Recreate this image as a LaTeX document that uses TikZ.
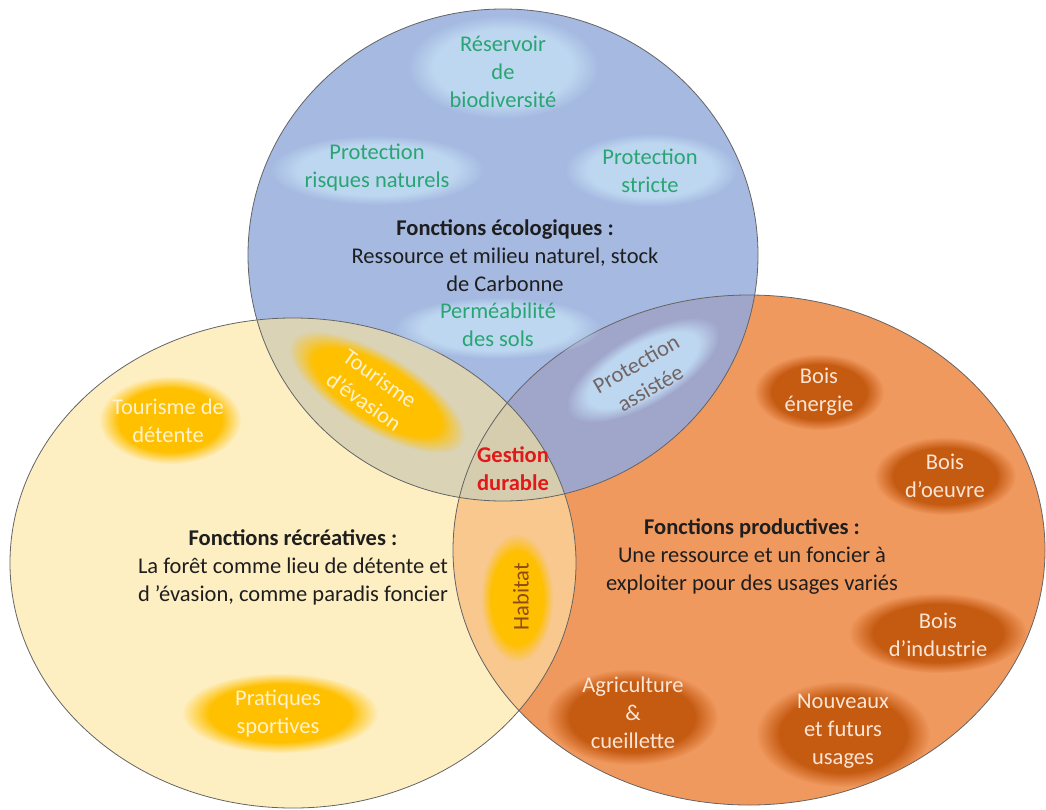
\documentclass[tikz,border=0pt]{standalone}
\usepackage{fontspec}
\setmainfont{Carlito}
\usetikzlibrary{fadings}
\pgfdeclareradialshading{blobshade}{\pgfpointorigin}{color(0bp)=(pgftransparent!0); color(18bp)=(pgftransparent!0); color(25bp)=(pgftransparent!100); color(50bp)=(pgftransparent!100)}
\pgfdeclarefading{blobfade}{\pgfuseshading{blobshade}}
\definecolor{cblue}{RGB}{165,185,225}
\definecolor{cyel}{RGB}{254,239,195}
\definecolor{cora}{RGB}{240,153,95}
\definecolor{cby}{RGB}{218,211,182}
\definecolor{cbo}{RGB}{160,166,202}
\definecolor{cyo}{RGB}{248,200,142}
\definecolor{cbyo}{RGB}{214,205,175}
\definecolor{edge}{RGB}{100,100,100}
\definecolor{bbl}{RGB}{190,215,240}
\definecolor{bgold}{RGB}{255,192,0}
\definecolor{bdor}{RGB}{197,90,17}
\definecolor{tgreen}{RGB}{40,165,115}
\definecolor{tcream}{RGB}{255,242,204}
\definecolor{tpeach}{RGB}{251,229,214}
\definecolor{tgrey}{RGB}{115,100,100}
\definecolor{tbrown}{RGB}{140,75,25}
\definecolor{tred}{RGB}{225,25,25}
\definecolor{tdark}{RGB}{30,30,30}
\tikzset{
  lbl/.style={align=center, inner sep=0pt, font=\fontsize{22.5}{28}\selectfont},
  blob/.style={path fading=blobfade},
}
\newcommand{\blueE}{(503,255) ellipse [x radius=255pt, y radius=246pt]}
\newcommand{\yelE}{(293,563) ellipse [x radius=283pt, y radius=245pt]}
\newcommand{\oraE}{(749,550) ellipse [x radius=296pt, y radius=255pt]}
\begin{document}
\begin{tikzpicture}[x=1pt,y=-1pt]
\useasboundingbox[fill=white] (0,0) rectangle (1046,809);
% base regions
\fill[cblue] \blueE;
\fill[cyel] \yelE;
\fill[cora] \oraE;
\begin{scope}\clip \blueE; \fill[cby] \yelE; \end{scope}
\begin{scope}\clip \blueE; \fill[cbo] \oraE; \end{scope}
\begin{scope}\clip \yelE; \fill[cyo] \oraE; \end{scope}
\begin{scope}\clip \blueE; \clip \yelE; \fill[cbyo] \oraE; \end{scope}
\draw[edge, line width=0.8pt] \blueE;
\draw[edge, line width=0.8pt] \yelE;
\draw[edge, line width=0.8pt] \oraE;
% blobs (ecological)
\fill[bbl, blob] (503,67) ellipse [x radius=96pt, y radius=52pt];
\fill[bbl, blob] (377,170) ellipse [x radius=108pt, y radius=35pt];
\fill[bbl, blob] (651,170) ellipse [x radius=87pt, y radius=37pt];
\fill[bbl, blob] (497,328) ellipse [x radius=104pt, y radius=31pt];
% blobs (recreational)
\fill[bgold, blob] (170,420) ellipse [x radius=71pt, y radius=44pt];
\fill[bgold, blob] (280,713) ellipse [x radius=98pt, y radius=40pt];
\fill[bgold, blob] (517,598) ellipse [x radius=36pt, y radius=64pt];
\begin{scope}[transform canvas={shift={(377pt,-392pt)}, rotate=-31}]
  \fill[bgold, blob] (0,0) ellipse [x radius=100pt, y radius=38pt];
\end{scope}
\begin{scope}[transform canvas={shift={(643pt,-370pt)}, rotate=30}]
  \fill[bbl, blob] (0,0) ellipse [x radius=86pt, y radius=35pt];
\end{scope}
% blobs (productive)
\begin{scope}
\clip \oraE;
\fill[bdor, blob] (819,392) ellipse [x radius=65pt, y radius=38pt];
\fill[bdor, blob] (945,476) ellipse [x radius=71pt, y radius=39pt];
\fill[bdor, blob] (938,633) ellipse [x radius=89pt, y radius=40pt];
\fill[bdor, blob] (632,717) ellipse [x radius=86pt, y radius=48pt];
\fill[bdor, blob] (843,734) ellipse [x radius=87pt, y radius=53pt];
\end{scope}
% texts
\node[lbl, text=tgreen] (res) at (503,72) {Réservoir\\de\\biodiversité};
\node[lbl, text=tgreen] (prn) at (377,168) {Protection\\risques naturels};
\node[lbl, text=tgreen] (prs) at (650,171) {Protection\\stricte};
\node[lbl, text=tgreen] (perm) at (498,325) {Perméabilité\\des sols};
\node[lbl, text=tdark] (eco) at (505,256) {\textbf{Fonctions écologiques :}\\Ressource et milieu naturel, stock\\de Carbonne};
\node[lbl, text=tcream, rotate=-35] (tev) at (372,390) {Tourisme\\d’évasion};
\node[lbl, text=tgrey, rotate=30] (pas) at (643,376) {Protection\\assistée};
\node[lbl, text=tred, font=\fontsize{22.5}{28}\selectfont\bfseries] (gd) at (513,469) {Gestion\\durable};
\node[lbl, text=tbrown, rotate=90] (hab) at (521,597) {Habitat};
\node[lbl, text=tdark] (rec) at (293,567) {\textbf{Fonctions récréatives :}\\La forêt comme lieu de détente et\\d ’évasion, comme paradis foncier};
\node[lbl, text=tcream] (tdt) at (168,421) {Tourisme de\\détente};
\node[lbl, text=tcream] (pra) at (278,714) {Pratiques\\sportives};
\node[lbl, text=tdark] (pro) at (752,557) {\textbf{Fonctions productives :}\\Une ressource et un foncier à\\exploiter pour des usages variés};
\node[lbl, text=tpeach] (be) at (819,392) {Bois\\énergie};
\node[lbl, text=tpeach] (bo) at (945,476) {Bois\\d’oeuvre};
\node[lbl, text=tpeach] (bi) at (938,635) {Bois\\d’industrie};
\node[lbl, text=tpeach] (agr) at (633,713) {Agriculture\\\&\\cueillette};
\node[lbl, text=tpeach] (nfu) at (843,731) {Nouveaux\\et futurs\\usages};
\end{tikzpicture}
\end{document}
